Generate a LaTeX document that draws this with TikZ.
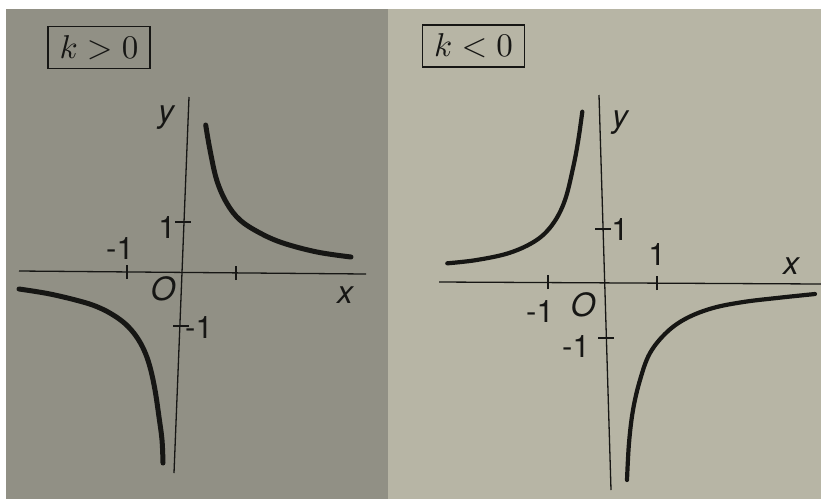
\documentclass[tikz,border=0pt]{standalone}
\usepackage{graphicx}
\usepackage{fontspec}
\newfontfamily\lab{TeX Gyre Heros}
\definecolor{bgL}{RGB}{145,144,133}
\definecolor{bgR}{RGB}{183,181,165}
\definecolor{ink}{RGB}{22,22,20}
\newcommand{\casetext}[1]{\scalebox{3.3}{$#1$}}
\begin{document}
\begin{tikzpicture}[x=1pt,y=-1pt,
  axis/.style={ink,line width=1.3pt},
  tickmark/.style={ink,line width=1.3pt},
  graphL/.style={ink,line width=5pt,line cap=round},
  graphR/.style={ink,line width=4.2pt,line cap=round},
  lbl/.style={text=ink,font=\lab\fontsize{31}{31}\selectfont,inner sep=0pt},
  ilbl/.style={lbl,font=\lab\itshape\fontsize{32}{32}\selectfont},
  casebox/.style={draw=ink,line width=1.3pt,text=ink,minimum width=102pt,minimum height=42pt,inner sep=0pt}]
\useasboundingbox (0,0) rectangle (821,499);
\fill[white] (0,0) rectangle (821,499);
\fill[bgL] (6,9) rectangle (388,499);
\fill[bgR] (388,9) rectangle (821,499);

% ---------- left panel: k > 0 ----------
\node[casebox] (caseL) at (99,47.5) {\casetext{k>0}};
\coordinate (Lxl) at (19,271);
\coordinate (Lxr) at (366,274);
\coordinate (Lyt) at (189,97);
\coordinate (Lyb) at (174,473);
\draw[axis] (Lxl) -- (Lxr);
\draw[axis] (Lyt) -- (Lyb);
\coordinate (LtxP) at (236,273);
\coordinate (LtxM) at (127,272);
\coordinate (LtyP) at (183,222);
\coordinate (LtyM) at (181,326);
\draw[tickmark] ([yshift=-7pt]LtxP) -- ([yshift=7pt]LtxP);
\draw[tickmark] ([yshift=-7pt]LtxM) -- ([yshift=7pt]LtxM);
\draw[tickmark] ([xshift=-8pt]LtyP) -- ([xshift=8pt]LtyP);
\draw[tickmark] ([xshift=-8pt]LtyM) -- ([xshift=8pt]LtyM);
\node[lbl] (L1y) at (167,228) {1};
\node[lbl] (Lm1x) at (120,249) {-1};
\node[ilbl] (LO) at (163,289) {O};
\node[lbl] (Lm1y) at (199,328) {-1};
\node[ilbl] (Ly) at (166,118) {y};
\node[ilbl] (Lx) at (345,295) {x};
\draw[graphL] plot[smooth,tension=0.6] coordinates {(205.7,125) (210,150) (216.7,180) (226.7,203) (240,220) (260,233) (283,243) (317,252) (351,257)};
\draw[graphL] plot[smooth,tension=0.6] coordinates {(19,289) (50,294) (83,302) (100,308) (114,315.5) (126,324.5) (136,336) (144,350) (150,367) (155,390) (159,417) (162,440) (163,463)};

% ---------- right panel: k < 0 ----------
\node[casebox] (caseR) at (473.5,46) {\casetext{k<0}};
\coordinate (Rxl) at (439,282);
\coordinate (Rxr) at (821,284);
\coordinate (Ryt) at (599,95);
\coordinate (Ryb) at (611,490);
\draw[axis] (Rxl) -- (Rxr);
\draw[axis] (Ryt) -- (Ryb);
\coordinate (RtxP) at (657,283);
\coordinate (RtxM) at (548,282);
\coordinate (RtyP) at (603,229);
\coordinate (RtyM) at (606,338);
\draw[tickmark] ([yshift=-7pt]RtxP) -- ([yshift=7pt]RtxP);
\draw[tickmark] ([yshift=-7pt]RtxM) -- ([yshift=7pt]RtxM);
\draw[tickmark] ([xshift=-8pt]RtyP) -- ([xshift=8pt]RtyP);
\draw[tickmark] ([xshift=-8pt]RtyM) -- ([xshift=8pt]RtyM);
\node[lbl] (R1y) at (620,230) {1};
\node[lbl] (R1x) at (657,255) {1};
\node[lbl] (Rm1x) at (540,312) {-1};
\node[ilbl] (RO) at (583,305) {O};
\node[lbl] (Rm1y) at (576,347) {-1};
\node[ilbl] (Ry) at (620,123) {y};
\node[ilbl] (Rx) at (791,266) {x};
\draw[graphR] plot[smooth,tension=0.6] coordinates {(447.3,263.3) (476.7,260) (510,252.7) (536.7,240) (553.3,223.3) (565,200) (573.3,166.7) (578.3,140) (582.3,111.7)};
\draw[graphR] plot[smooth,tension=0.6] coordinates {(627,480) (629,443) (633,410) (640,380) (650,353) (667,332) (687,318) (713,308) (743.3,302) (776.7,298) (815,294)};
\end{tikzpicture}
\end{document}
